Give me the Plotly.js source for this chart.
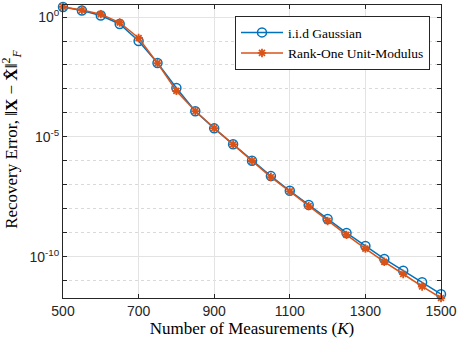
<!DOCTYPE html>
<html>
<head>
<meta charset="utf-8">
<script src="https://cdn.plot.ly/plotly-3.0.1.min.js"></script>
<style>
  body { margin: 0; background: #fff; }
  #myDiv { width: 457px; height: 344px; }
</style>
</head>
<body>
<div id="myDiv"></div>
<script>
// number of measurements K
var measurements = [500, 550, 600, 650, 700, 750, 800, 850, 900, 950, 1000,
                    1050, 1100, 1150, 1200, 1250, 1300, 1350, 1400, 1450, 1500];

// log10 of recovery error
var gaussianLog = [0.42, 0.27, 0.06, -0.29, -1.0, -1.92, -2.96, -3.93, -4.64, -5.3, -5.99,
                   -6.63, -7.24, -7.83, -8.42, -9.0, -9.54, -10.08, -10.57, -11.05, -11.55];
var unitModLog  = [0.42, 0.29, 0.12, -0.23, -0.875, -1.92, -3.08, -3.92, -4.63, -5.31, -6.0,
                   -6.67, -7.27, -7.88, -8.5, -9.08, -9.65, -10.2, -10.71, -11.23, -11.71];

var majorTicks = [1e-10, 1e-5, 1];
var majorLabels = ['10<sup>-10</sup>', '10<sup>-5</sup>', '10<sup>0</sup>'];
var minorTicks = [1e-11, 1e-9, 1e-8, 1e-7, 1e-6, 1e-4, 1e-3, 1e-2, 1e-1];

function pow10(arr) {
  return arr.map(function (v) { return Math.pow(10, v); });
}

var gaussian = {
  x: measurements,
  y: pow10(gaussianLog),
  name: 'i.i.d Gaussian',
  mode: 'lines+markers',
  type: 'scatter',
  cliponaxis: false,
  line: { color: '#0072BD', width: 1.5 },
  marker: { symbol: 'circle-open', size: 9, color: '#0072BD', line: { width: 1.5 } }
};

var unitModulus = {
  x: measurements,
  y: pow10(unitModLog),
  name: 'Rank-One Unit-Modulus',
  mode: 'lines+markers',
  type: 'scatter',
  cliponaxis: false,
  line: { color: '#D95319', width: 1.5 },
  marker: { symbol: 'asterisk-open', size: 7, color: '#D95319', line: { width: 1.8, color: '#D95319' } }
};

var data = [gaussian, unitModulus];

var serif = 'Liberation Serif, DejaVu Serif, serif';
var sans = 'Liberation Sans, Arial, sans-serif';

var layout = {
  width: 457,
  height: 344,
  margin: { l: 63, r: 16, t: 5, b: 46 },
  paper_bgcolor: '#fff',
  plot_bgcolor: '#fff',
  showlegend: true,
  legend: {
    x: 0.455, y: 0.962, xanchor: 'left', yanchor: 'top',
    bgcolor: '#fff', bordercolor: '#262626', borderwidth: 1,
    font: { family: serif, size: 13.5, color: '#000' },
    itemwidth: 42,
    tracegroupgap: 0
  },
  // y title sits a bit above the axis middle in the figure, so it is an annotation
  annotations: [{
    text: 'Recovery Error, \u2016<b>X</b> \u2212 <b>X\u0302</b>\u2016<sup>2</sup><sub><i>F</i></sub>',
    xref: 'paper', yref: 'paper', x: -0.135, y: 0.543,
    xanchor: 'center', yanchor: 'middle', textangle: -90, showarrow: false,
    font: { family: serif, size: 17, color: '#000' }
  }],
  xaxis: {
    title: { text: 'Number of Measurements (<i>K</i>)', font: { family: serif, size: 17, color: '#000' }, standoff: 4 },
    range: [500, 1500],
    tickvals: [500, 700, 900, 1100, 1300, 1500],
    tickfont: { family: sans, size: 14, color: '#262626' },
    ticks: 'inside', ticklen: 4, tickcolor: '#262626',
    showline: true, linecolor: '#262626', linewidth: 1, mirror: 'ticks',
    showgrid: true, gridcolor: '#e3e3e3', gridwidth: 1,
    zeroline: false
  },
  yaxis: {
    type: 'log',
    range: [-11.71, 0.5],
    tickvals: majorTicks,
    ticktext: majorLabels,
    tickfont: { family: sans, size: 14, color: '#262626' },
    ticks: 'inside', ticklen: 4, tickcolor: '#262626',
    showline: true, linecolor: '#262626', linewidth: 1, mirror: 'ticks',
    showgrid: true, gridcolor: '#e3e3e3', gridwidth: 1,
    zeroline: false,
    minor: {
      tickvals: minorTicks,
      ticks: 'inside', ticklen: 4, tickcolor: '#262626',
      showgrid: true, gridcolor: '#d9d9d9', gridwidth: 1, griddash: 'dot'
    }
  }
};

Plotly.newPlot('myDiv', data, layout, { displayModeBar: false, staticPlot: true });
</script>
</body>
</html>
